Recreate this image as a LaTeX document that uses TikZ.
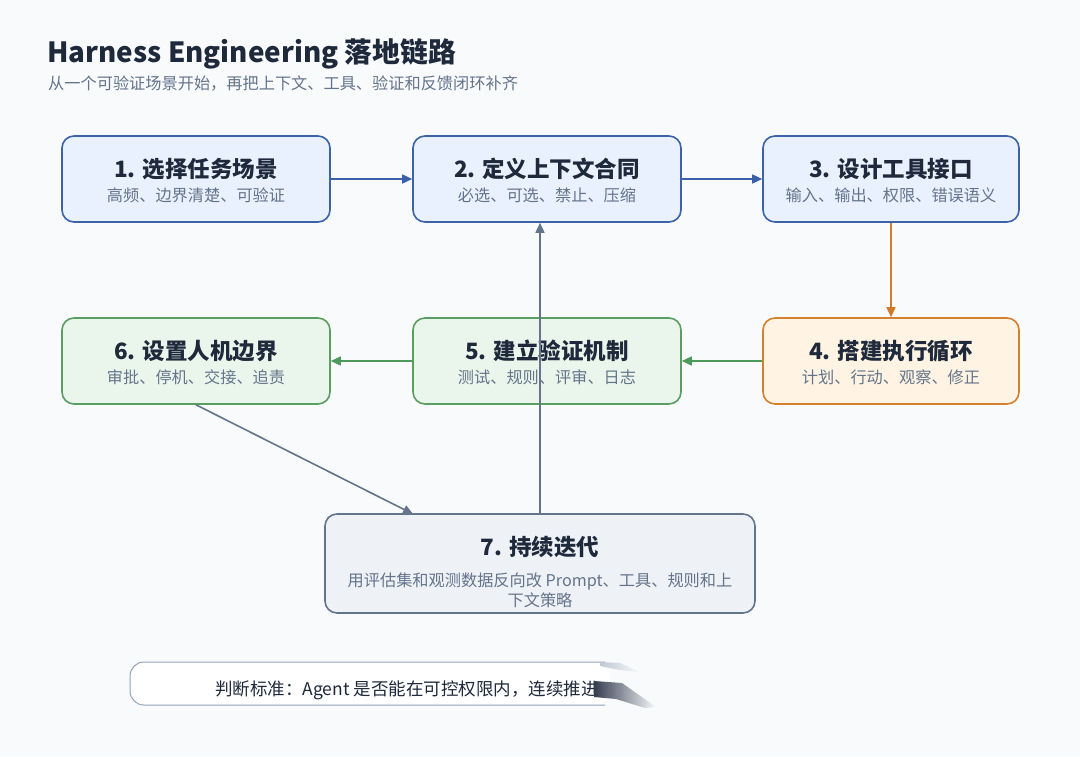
\documentclass[tikz,border=0pt]{standalone}
\usepackage{fontspec}
\setmainfont{Noto Sans CJK SC}
\usetikzlibrary{arrows.meta,fadings,calc}
\definecolor{bg}{HTML}{F8FAFC}
\definecolor{ink}{HTML}{1E293B}
\definecolor{sub}{HTML}{64748B}
\definecolor{bluebd}{HTML}{3C62A8}
\definecolor{bluefl}{HTML}{E8F1FD}
\definecolor{greenbd}{HTML}{5B9E62}
\definecolor{greenfl}{HTML}{EAF6EC}
\definecolor{orangebd}{HTML}{D4802E}
\definecolor{orangefl}{HTML}{FFF4E3}
\definecolor{graybd}{HTML}{64748B}
\definecolor{grayfl}{HTML}{EEF2F7}
\definecolor{arrblue}{HTML}{3B5FA8}
\definecolor{arrgreen}{HTML}{4E9A5A}
\definecolor{arrorange}{HTML}{D07A2C}
\definecolor{arrslate}{HTML}{64748B}
\definecolor{notebd}{HTML}{94A3B8}
\tikzset{
  stepbox/.style={rounded corners=12pt, line width=1.6pt, inner sep=0pt},
  bluebox/.style={stepbox, draw=bluebd, fill=bluefl, minimum width=268pt, minimum height=86pt},
  bluebox3/.style={stepbox, draw=bluebd, fill=bluefl, minimum width=256pt, minimum height=86pt},
  greenbox/.style={stepbox, draw=greenbd, fill=greenfl, minimum width=268pt, minimum height=86pt},
  orangebox/.style={stepbox, draw=orangebd, fill=orangefl, minimum width=256pt, minimum height=86pt},
  graybox/.style={stepbox, draw=graybd, fill=grayfl, minimum width=430pt, minimum height=99pt},
  ttl/.style={inner sep=0pt, text=ink, font=\fontsize{22.5}{26}\selectfont\bfseries},
  stxt/.style={inner sep=0pt, text=sub, font=\fontsize{16.2}{20}\selectfont, align=center},
  conn/.style={line width=1.6pt, -{Triangle[length=10pt,width=9pt]}},
}
\begin{document}
\begin{tikzpicture}[x=1pt,y=-1pt]
\fill[bg] (0,0) rectangle (1080,756);
\useasboundingbox (0,0) rectangle (1080,756);
% title
\node[anchor=base west, inner sep=0pt, text=ink, font=\fontsize{27.8}{32}\selectfont\bfseries] (title) at (47,62) {Harness Engineering 落地链路};
\node[anchor=base west, inner sep=0pt, text=sub, font=\fontsize{16.2}{20}\selectfont] (subtitle) at (48,89) {从一个可验证场景开始，再把上下文、工具、验证和反馈闭环补齐};
% boxes
\node[bluebox] (b1) at (196,179) {};
\node[bluebox] (b2) at (547,179) {};
\node[bluebox3] (b3) at (891,179) {};
\node[orangebox] (b4) at (891,361) {};
\node[greenbox] (b5) at (547,361) {};
\node[greenbox] (b6) at (196,361) {};
\node[graybox] (b7) at (540,563.5) {};
% texts
\node[ttl] (t1) at (196,169) {1. 选择任务场景};
\node[stxt] (s1) at (196,195) {高频、边界清楚、可验证};
\node[ttl] (t2) at (547,169) {2. 定义上下文合同};
\node[stxt] (s2) at (547,195) {必选、可选、禁止、压缩};
\node[ttl] (t3) at (891,169) {3. 设计工具接口};
\node[stxt] (s3) at (891,195) {输入、输出、权限、错误语义};
\node[ttl] (t4) at (891,351) {4. 搭建执行循环};
\node[stxt] (s4) at (891,377) {计划、行动、观察、修正};
\node[ttl] (t5) at (547,351) {5. 建立验证机制};
\node[stxt] (s5) at (547,377) {测试、规则、评审、日志};
\node[ttl] (t6) at (196,351) {6. 设置人机边界};
\node[stxt] (s6) at (196,377) {审批、停机、交接、追责};
\node[ttl] (t7) at (540,547) {7. 持续迭代};
\node[stxt] (s7) at (540,590) {用评估集和观测数据反向改 Prompt、工具、规则和上\\下文策略};
% connectors
\draw[conn, arrblue] (b1.east) -- (b2.west);
\draw[conn, arrblue] (b2.east) -- (b3.west);
\draw[conn, arrorange] (b3.south) -- (b4.north);
\draw[conn, arrgreen] (b4.west) -- (b5.east);
\draw[conn, arrgreen] (b5.west) -- (b6.east);
\coordinate (e7) at (413,514);
\draw[conn, arrslate] (b6.south) -- (e7);
\draw[conn, arrslate] (b7.north) -- (b7.north |- b2.south);
% note
\fill[white, rounded corners=14pt] (610,662) -- (130,662) -- (130,705) -- (610,705) -- cycle;
\draw[notebd, line width=1pt, rounded corners=14pt] (605,662) -- (130,662) -- (130,705) -- (605,705);
\begin{scope}
\clip (130,650) rectangle (598,715);
\node[anchor=base west, inner sep=0pt, text=ink, font=\fontsize{17.5}{20}\selectfont] (note) at (215,695) {判断标准：Agent 是否能在可控权限内，连续推进};
\end{scope}
\fill[ink!90, path fading=east] (594,681) -- (622,683) -- (656,707) -- (645,708) -- (616,699) -- (594,697) -- cycle;
\fill[notebd!60, path fading=east] (600,662) -- (620,663) -- (640,672) -- (620,670) -- (600,666) -- cycle;
\end{tikzpicture}
\end{document}
